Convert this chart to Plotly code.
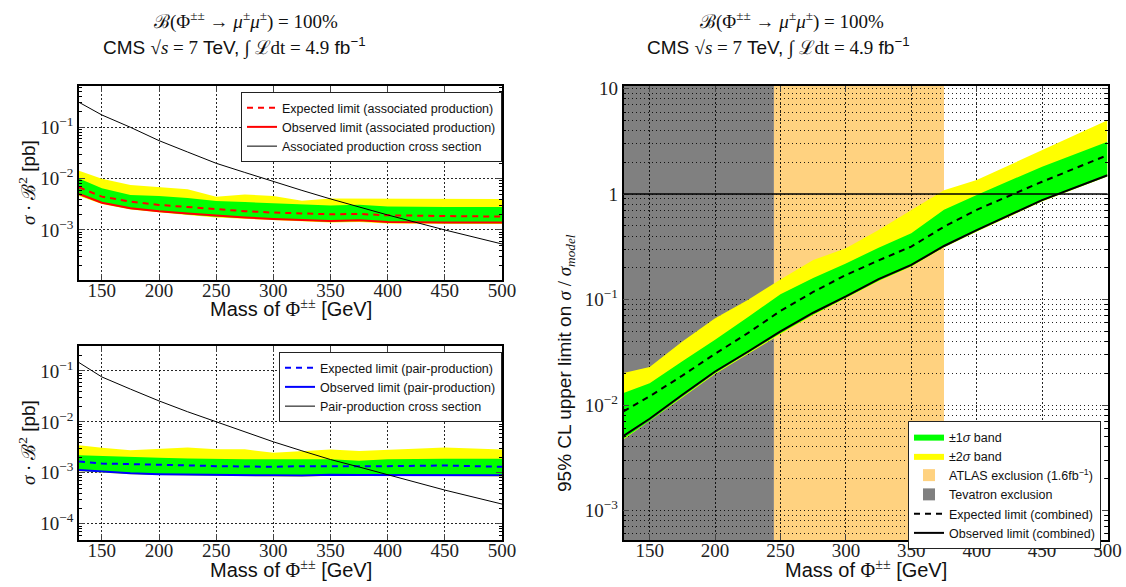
import plotly.graph_objects as go

W, H = 1126, 587

# ---------------- data ----------------
mass = [130, 150, 175, 200, 225, 250, 275, 300, 325, 350, 375, 400, 450, 500]

# associated production (top-left)
xsec_assoc = [0.307, 0.174, 0.100, 0.055, 0.033, 0.0199, 0.0132, 0.00875, 0.0059, 0.00402, 0.0028, 0.00196, 0.00100, 0.000533]
exp_assoc = [0.00678, 0.00446, 0.00356, 0.00307, 0.0028, 0.00253, 0.00232, 0.00218, 0.0021, 0.00202, 0.00205, 0.00193, 0.00187, 0.00182]
obs_assoc = [0.00502, 0.0034, 0.00264, 0.00231, 0.0021, 0.0019, 0.00175, 0.00164, 0.00155, 0.0015, 0.00155, 0.00143, 0.00139, 0.00139]
g_up_assoc = [0.0101, 0.00648, 0.00481, 0.00459, 0.0042, 0.00367, 0.0035, 0.00331, 0.0031, 0.0030, 0.0031, 0.00285, 0.0028, 0.0028]
g_lo_assoc = [0.0048, 0.0033, 0.00255, 0.00228, 0.0020, 0.0018, 0.0017, 0.0016, 0.00152, 0.00145, 0.0015, 0.0014, 0.00135, 0.00135]
y_up_assoc = [0.0143, 0.0100, 0.0075, 0.0068, 0.0062, 0.00446, 0.0049, 0.00459, 0.0037, 0.0041, 0.0041, 0.0040, 0.0040, 0.0040]
y_lo_assoc = [0.0046, 0.0032, 0.0025, 0.0022, 0.00195, 0.00174, 0.00165, 0.00156, 0.00148, 0.0014, 0.00143, 0.00133, 0.0013, 0.0013]

# pair production (bottom-left)
xsec_pair = [0.146, 0.0762, 0.044, 0.0258, 0.0158, 0.0100, 0.0064, 0.00406, 0.0027, 0.00182, 0.0013, 0.000927, 0.000457, 0.000243]
exp_pair = [0.00167, 0.00152, 0.00148, 0.00146, 0.0014, 0.00135, 0.00133, 0.00131, 0.00135, 0.00135, 0.00133, 0.00135, 0.00139, 0.00131]
obs_pair = [0.00113, 0.00105, 0.00098, 0.00094, 0.00092, 0.0009, 0.0009, 0.00089, 0.00088, 0.00091, 0.0009, 0.0009, 0.0009, 0.00089]
g_up_pair = [0.00222, 0.00213, 0.00205, 0.00197, 0.0019, 0.00186, 0.00185, 0.00185, 0.00185, 0.00185, 0.00172, 0.00185, 0.00188, 0.00188]
g_lo_pair = [0.0011, 0.00102, 0.00096, 0.00092, 0.0009, 0.00088, 0.00088, 0.00087, 0.00086, 0.00089, 0.00088, 0.00088, 0.00088, 0.00087]
y_up_pair = [0.00349, 0.0031, 0.00278, 0.0030, 0.00314, 0.0029, 0.0029, 0.00247, 0.0027, 0.00286, 0.00267, 0.0028, 0.00314, 0.00286]
y_lo_pair = [0.00107, 0.0010, 0.00094, 0.0009, 0.00088, 0.00086, 0.00086, 0.00085, 0.00084, 0.00087, 0.00086, 0.00086, 0.00086, 0.00085]

# combined (right)
obs_comb = [0.0051, 0.0074, 0.0125, 0.0208, 0.032, 0.050, 0.075, 0.107, 0.156, 0.213, 0.322, 0.456, 0.877, 1.51]
exp_comb = [0.0087, 0.0121, 0.019, 0.0306, 0.048, 0.078, 0.118, 0.171, 0.235, 0.318, 0.49, 0.71, 1.31, 2.34]
g_up_comb = [0.013, 0.0161, 0.026, 0.0415, 0.068, 0.112, 0.16, 0.22, 0.31, 0.425, 0.71, 0.98, 1.82, 3.13]
g_lo_comb = [0.0048, 0.0071, 0.012, 0.0200, 0.031, 0.048, 0.072, 0.104, 0.151, 0.207, 0.315, 0.445, 0.86, 1.48]
y_up_comb = [0.0201, 0.0229, 0.040, 0.0666, 0.0993, 0.155, 0.237, 0.306, 0.456, 0.706, 1.09, 1.36, 2.61, 5.01]
y_lo_comb = [0.0047, 0.0070, 0.0118, 0.0197, 0.0305, 0.047, 0.071, 0.103, 0.149, 0.205, 0.312, 0.44, 0.85, 1.47]

tevatron_range = [130, 245]
atlas_range = [245, 375]

x_ticks = [150, 200, 250, 300, 350, 400, 450, 500]

# ---------------- style ----------------
SERIF = "Liberation Serif"
SANS = "Liberation Sans"
GREEN = "#00ff00"
YELLOW = "#ffff00"
ORANGE = "#ffd280"
GRAY = "#808080"


def px_x(p):
    return p / W


def px_y(p):
    return 1 - p / H


def sup(n):
    return "10<sup>\u2212%d</sup>" % n


fig = go.Figure()


def band(xa, up, lo, color, name, xref, yref, legend, showlegend, rank):
    fig.add_trace(go.Scatter(
        x=list(xa) + list(xa)[::-1], y=list(up) + list(lo)[::-1],
        fill="toself", fillcolor=color, mode="lines",
        line=dict(width=0, color=color), name=name,
        xaxis=xref, yaxis=yref, legend=legend, showlegend=showlegend,
        legendrank=rank, hoverinfo="skip"))


def line(xa, ya, color, dash, width, name, xref, yref, legend, rank):
    fig.add_trace(go.Scatter(
        x=xa, y=ya, mode="lines", line=dict(color=color, dash=dash, width=width),
        name=name, xaxis=xref, yaxis=yref, legend=legend, legendrank=rank))


# top-left
band(mass, y_up_assoc, y_lo_assoc, YELLOW, "y", "x", "y", "legend", False, 10)
band(mass, g_up_assoc, g_lo_assoc, GREEN, "g", "x", "y", "legend", False, 10)
line(mass, exp_assoc, "red", "6px,5px", 2, "Expected limit (associated production)", "x", "y", "legend", 1)
line(mass, obs_assoc, "red", "solid", 2, "Observed limit (associated production)", "x", "y", "legend", 2)
line(mass, xsec_assoc, "black", "solid", 1, "Associated production cross section", "x", "y", "legend", 3)

# bottom-left
band(mass, y_up_pair, y_lo_pair, YELLOW, "y", "x2", "y2", "legend2", False, 10)
band(mass, g_up_pair, g_lo_pair, GREEN, "g", "x2", "y2", "legend2", False, 10)
line(mass, exp_pair, "blue", "6px,5px", 2, "Expected limit (pair-production)", "x2", "y2", "legend2", 1)
line(mass, obs_pair, "blue", "solid", 2, "Observed limit (pair-production)", "x2", "y2", "legend2", 2)
line(mass, xsec_pair, "black", "solid", 1, "Pair-production cross section", "x2", "y2", "legend2", 3)

# right
band(mass, y_up_comb, y_lo_comb, YELLOW, "\u00b12<i>\u03c3</i> band", "x3", "y3", "legend3", True, 2)
band(mass, g_up_comb, g_lo_comb, GREEN, "\u00b11<i>\u03c3</i> band", "x3", "y3", "legend3", True, 1)
line(mass, exp_comb, "black", "6px,5px", 2, "Expected limit (combined)", "x3", "y3", "legend3", 5)
line(mass, obs_comb, "black", "solid", 2, "Observed limit (combined)", "x3", "y3", "legend3", 6)

# exclusion regions (below grid)
fig.add_shape(type="rect", xref="x3", yref="y3 domain", x0=tevatron_range[0], x1=tevatron_range[1],
              y0=0, y1=1, fillcolor=GRAY, line=dict(width=0), layer="below",
              showlegend=True, name="Tevatron exclusion", legend="legend3", legendrank=4)
fig.add_shape(type="rect", xref="x3", yref="y3 domain", x0=atlas_range[0], x1=atlas_range[1],
              y0=0, y1=1, fillcolor=ORANGE, line=dict(width=0), layer="below",
              showlegend=True, name="ATLAS exclusion (1.6fb<sup>\u22121</sup>)", legend="legend3", legendrank=3)
fig.add_shape(type="line", xref="x3 domain", yref="y3", x0=0, x1=1, y0=1, y1=1,
              line=dict(color="black", width=1.5), layer="above")

GRIDC = "rgba(0,0,0,0.85)"
GDASH = "1.5px,2.5px"


def minor_vals(lo, hi):
    vals = []
    for e in range(lo, hi + 1):
        for m in range(2, 10):
            vals.append(m * 10.0 ** e)
    return vals


common_x = dict(range=[130, 500], tickmode="array", tickvals=x_ticks,
                ticktext=[str(v) for v in x_ticks], ticks="inside", ticklen=6,
                showline=True, linecolor="black", linewidth=1.5, mirror="allticks",
                showgrid=True, gridcolor=GRIDC, griddash=GDASH, gridwidth=1,
                zeroline=False, automargin=False, ticklabelstandoff=-8,
                tickfont=dict(family=SERIF, size=19, color="#222"))


def ycommon(rng, decs, minor_grid):
    return dict(type="log", range=rng, tickmode="array",
                tickvals=[10.0 ** d for d in decs],
                ticktext=[("1" if d == 0 else ("10" if d == 1 else sup(-d))) for d in decs],
                ticks="inside", ticklen=6, showline=True, linecolor="black", linewidth=1.5,
                mirror="allticks", showgrid=True, gridcolor=GRIDC, griddash=GDASH, gridwidth=1,
                zeroline=False, automargin=False,
                tickfont=dict(family=SERIF, size=19, color="#222"),
                minor=dict(tickmode="array", tickvals=minor_vals(-5, 1), ticks="inside", ticklen=3,
                           tickcolor="black", showgrid=minor_grid, gridcolor=GRIDC, griddash=GDASH,
                           gridwidth=1))


fig.update_layout(
    width=W, height=H, margin=dict(l=0, r=0, t=0, b=0, pad=0), autosize=False,
    paper_bgcolor="white", plot_bgcolor="white",
    xaxis=dict(domain=[px_x(79), px_x(502)], anchor="y", **common_x),
    yaxis=dict(domain=[px_y(280), px_y(86)], anchor="x", **ycommon([-3.975, -0.195], [-3, -2, -1], False)),
    xaxis2=dict(domain=[px_x(79), px_x(502)], anchor="y2", **common_x),
    yaxis2=dict(domain=[px_y(540), px_y(346)], anchor="x2", **ycommon([-4.32, -0.51], [-4, -3, -2, -1], False)),
    xaxis3=dict(domain=[px_x(623.5), px_x(1107.5)], anchor="y3", **common_x),
    yaxis3=dict(domain=[px_y(540), px_y(86)], anchor="x3", **ycommon([-3.28, 1.025], [-3, -2, -1, 0, 1], True)),
)

leg_common = dict(xanchor="right", yanchor="top", bgcolor="white", bordercolor="#222", borderwidth=1,
                  font=dict(family=SANS, size=12.5, color="#111"), tracegroupgap=0, traceorder="normal")
fig.update_layout(
    legend=dict(x=px_x(502), y=px_y(92), **leg_common),
    legend2=dict(x=px_x(502), y=px_y(352), **leg_common),
    legend3=dict(x=px_x(1101), y=px_y(421), **leg_common),
)

annots = []


def add_text(text, cx, cy, family, size, angle=0):
    annots.append(dict(text=text, x=px_x(cx), y=px_y(cy), xref="paper", yref="paper",
                       xanchor="center", yanchor="middle", textangle=angle, showarrow=False,
                       font=dict(family=family, size=size, color="#111")))


phi = "<span style='font-family:" + SERIF + "'>\u03a6<sup>\u00b1\u00b1</sup></span>"
title1 = "\u212c(\u03a6<sup>\u00b1\u00b1</sup> \u2192 <i>\u03bc</i><sup>\u00b1</sup><i>\u03bc</i><sup>\u00b1</sup>) = 100%"
title2 = ("CMS <span style='font-family:" + SERIF + "'>\u221a<i>s</i> = 7</span> TeV, "
          "<span style='font-family:" + SERIF + "'>\u222b \u2112dt = 4.9</span> fb<sup>\u22121</sup>")
for cx1, cx2 in [(246, 234), (792, 778)]:
    add_text(title1, cx1, 20, SERIF, 19)
    add_text(title2, cx2, 47, SANS, 19)

xt = "Mass of " + phi + " [GeV]"
for cx, cy in [(290.5, 308), (290.5, 569), (865.5, 569)]:
    add_text(xt, cx, cy, SANS, 20)

yt = "<span style='font-family:" + SERIF + "'><i>\u03c3</i> \u00b7 \u212c<sup>2</sup></span> [pb]"
for cy in [183, 443]:
    add_text(yt, 27, cy, SANS, 19, -90)
yt3 = ("95% CL upper limit on <span style='font-family:" + SERIF + "'><i>\u03c3</i> / <i>\u03c3</i>"
       "<sub><i>model</i></sub></span>")
add_text(yt3, 566, 363, SANS, 19, -90)
fig.update_layout(annotations=annots)

fig.write_html("out.html", config={"displayModeBar": False},
               post_script="document.body.style.margin='0';document.body.style.overflow='hidden';")
